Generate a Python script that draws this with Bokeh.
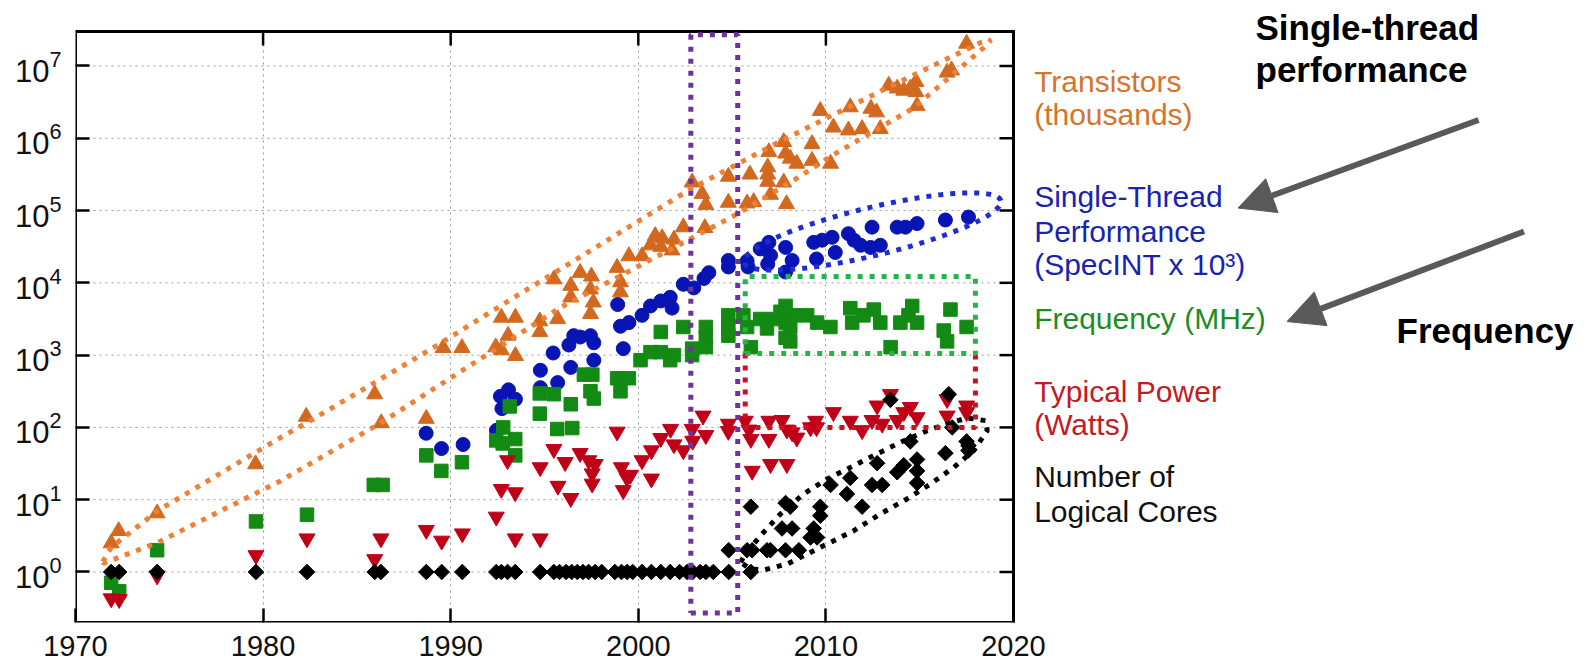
import numpy as np
from bokeh.plotting import figure
from bokeh.models import FixedTicker, Label, Arrow, NormalHead, Range1d
from bokeh.embed import file_html
from bokeh.resources import INLINE

# ---------------- data ----------------
trans_year = [1971.9, 1972.3, 1974.35, 1979.6, 1982.3, 1985.95, 1986.3, 1988.7, 1989.6, 1990.6,
              1992.4, 1992.7, 1992.7, 1993.06, 1993.45, 1993.45, 1994.75, 1994.75, 1995.5, 1995.7,
              1996.4, 1996.4, 1996.9, 1997.45, 1997.5, 1997.45, 1997.6, 1998.87, 1999.05, 1999.05,
              1999.5, 2000.2, 2000.65, 2000.9, 2001.27, 2001.2, 2001.8, 2001.9, 2002.4, 2002.87,
              2003.4, 2003.6, 2003.55, 2004.8, 2004.8, 2005.8, 2005.95, 2006.15, 2006.9, 2006.9,
              2006.9, 2007.05, 2006.96, 2007.75, 2007.75, 2007.85, 2007.9, 2008.1, 2008.45, 2009.26,
              2009.26, 2009.7, 2010.25, 2010.4, 2011.2, 2011.3, 2011.93, 2012.4, 2012.7, 2012.9,
              2013.35, 2013.8, 2014.15, 2014.5, 2014.8, 2014.8, 2014.86, 2016.46, 2016.7, 2017.5]
trans_k = [2.5, 3.7, 6.5, 31, 141, 288, 115, 132, 1259, 1259,
           1288, 1175, 3311, 1862, 3311, 977, 2951, 2089, 11220, 3162,
           9120, 6310, 13800, 8128, 12300, 3715, 5370, 16200, 10230, 7413,
           23440, 23440, 33110, 44670, 41690, 31620, 28180, 39810, 58880, 245500,
           169800, 120200, 57540, 295100, 128800, 125900, 316200, 131800, 398100, 316200,
           251200, 166000, 645700, 891300, 245500, 616600, 123000, 524800, 446700, 831800,
           489800, 2399000, 446700, 1413000, 1288000, 2692000, 1349000, 2570000, 2291000, 1349000,
           5370000, 4898000, 4571000, 4898000, 6026000, 4365000, 2818000, 8128000, 8710000, 20420000]

st_year = [1988.69, 1989.51, 1990.66, 1992.44, 1992.73, 1992.65, 1993.08, 1993.45, 1994.78, 1994.78,
           1995.46, 1995.7, 1996.3, 1996.4, 1996.56, 1996.9, 1997.45, 1997.63, 1997.63, 1998.9,
           1999.05, 1999.5, 1999.2, 2000.2, 2000.65, 2001.2, 2001.7, 2001.8, 2002.4, 2002.96,
           2003.5, 2003.76, 2004.8, 2004.8, 2005.8, 2005.85, 2006.5, 2006.96, 2007.05, 2006.9,
           2007.85, 2007.85, 2008.2, 2009.35, 2009.8, 2010.33, 2009.5, 2010.5, 2011.2, 2011.5,
           2011.85, 2012.38, 2012.46, 2012.9, 2013.8, 2014.24, 2014.86, 2016.37, 2017.6]
st_perf = [83, 51, 58, 91, 182, 269, 331, 245, 355, 617,
           1070, 417, 1380, 676, 1860, 1780, 1860, 1480, 851, 5010,
           2510, 2820, 1230, 3550, 4790, 5620, 6310, 4470, 9550, 8510,
           11500, 13800, 20400, 16600, 20000, 16600, 29500, 36300, 24000, 18200,
           30900, 14100, 20400, 36300, 38900, 42700, 21400, 26300, 47900, 38900,
           33100, 30900, 58900, 33100, 58900, 58900, 66100, 74100, 81300]

freq_year = [1971.9, 1972.33, 1974.35, 1979.62, 1982.34, 1985.9, 1986.37, 1988.7, 1989.5, 1990.6,
             1992.43, 1992.8, 1992.77, 1993.44, 1993.44, 1993.15, 1994.75, 1994.75, 1995.5, 1995.68,
             1996.48, 1996.4, 1997.1, 1997.45, 1997.63, 1997.55, 1998.87, 1999.05, 1999.5, 2000.12,
             2000.65, 2001.2, 2001.2, 2001.7, 2001.9, 2002.4, 2002.87, 2002.87, 2003.6, 2003.6,
             2003.6, 2004.8, 2004.8, 2004.8, 2005.6, 2005.8, 2006.0, 2006.5, 2006.86, 2007.2,
             2007.58, 2007.85, 2007.85, 2007.85, 2008.1, 2008.3, 2008.1, 2009.0, 2009.53, 2010.24,
             2011.3, 2011.4, 2012.0, 2012.55, 2012.9, 2013.45, 2013.97, 2014.4, 2014.6, 2014.86,
             2016.64, 2016.28, 2016.46, 2017.5]
freq_mhz = [0.71, 0.54, 2.0, 5.0, 6.2, 16, 16, 41, 25, 33,
            66, 100, 60, 69, 41, 195, 155, 295, 288, 95,
            98, 209, 537, 316, 251, 537, 479, 316, 479, 851,
            1100, 1100, 2090, 851, 1000, 2450, 1230, 1000, 1740, 2450,
            1290, 3550, 2450, 1860, 3550, 2450, 1290, 3160, 2340, 3160,
            3980, 4790, 2820, 1740, 2450, 3550, 1550, 3550, 2820, 2450,
            4470, 2820, 3550, 4270, 2820, 1290, 2820, 3550, 4790, 2820,
            4270, 2190, 1550, 2450]

power_year = [1971.9, 1972.33, 1974.35, 1979.62, 1982.34, 1985.95, 1986.28, 1988.7, 1989.52, 1990.62,
              1992.43, 1992.7, 1993.44, 1993.03, 1993.44, 1994.77, 1994.77, 1995.5, 1995.72, 1996.1,
              1996.4, 1996.9, 1997.36, 1997.7, 1997.54, 1997.54, 1998.87, 1999.1, 1999.4, 1999.2,
              1999.58, 2000.2, 2000.7, 2000.7, 2001.2, 2001.72, 2001.9, 2002.4, 2002.87, 2002.9,
              2003.45, 2003.6, 2004.8, 2004.8, 2005.7, 2005.9, 2006.0, 2006.07, 2006.96, 2006.96,
              2007.05, 2007.66, 2007.92, 2007.92, 2008.2, 2008.45, 2009.18, 2009.45, 2009.5, 2010.4,
              2011.3, 2011.93, 2012.46, 2012.73, 2013.0, 2013.44, 2013.8, 2014.15, 2014.5, 2014.86,
              2016.46, 2016.46, 2017.5, 2017.5]
power_w = [0.43, 0.42, 0.89, 1.7, 2.9, 1.5, 2.9, 3.8, 2.7, 3.4,
           5.8, 14, 12.6, 35, 2.9, 28, 2.9, 50, 15.5, 33,
           10.5, 44, 35, 31, 23, 16.6, 87, 28, 20, 13.5,
           22, 35, 19.5, 48, 71, 95, 58, 48, 95, 65,
           145, 78, 112, 89, 123, 93, 69, 25, 123, 69,
           31, 126, 93, 31, 85, 72, 100, 123, 100, 162,
           123, 91, 126, 200, 112, 288, 126, 162, 191, 138,
           245, 145, 200, 162]

cores_year = [1971.9, 1972.33, 1974.35, 1979.62, 1982.34, 1985.95, 1986.28, 1988.7, 1989.52, 1990.62,
              1992.43, 1992.7, 1993.03, 1993.44, 1994.77, 1995.5, 1995.8, 1996.15, 1996.45, 1996.75,
              1997.05, 1997.35, 1997.7, 1998.05, 1998.75, 1999.1, 1999.4, 1999.7, 2000.2, 2000.7,
              2001.2, 2001.7, 2002.2, 2002.6, 2002.9, 2003.3, 2003.6, 2004.0, 2004.82, 2006.0,
              2004.82, 2005.8, 2006.07, 2006.86, 2007.04, 2007.85, 2008.56, 2006.0, 2007.85, 2008.1,
              2007.66, 2008.2, 2009.18, 2009.35, 2009.53, 2009.7, 2009.7, 2010.25, 2011.12, 2011.3,
              2011.93, 2012.46, 2013.0, 2012.73, 2013.44, 2013.8, 2014.15, 2014.5, 2014.86, 2014.86,
              2014.86, 2016.37, 2016.55, 2016.73, 2017.5, 2017.6, 2017.6]
cores_n = [1, 1, 1, 1, 1, 1, 1, 1, 1, 1,
           1, 1, 1, 1, 1, 1, 1, 1, 1, 1,
           1, 1, 1, 1, 1, 1, 1, 1, 1, 1,
           1, 1, 1, 1, 1, 1, 1, 1, 1, 1,
           2, 2, 2, 2, 2, 2, 2, 8, 9, 8,
           4, 4, 3, 4, 3, 8, 6, 16, 12, 20,
           8, 16, 16, 32, 240, 24, 30, 64, 36, 25,
           17, 44, 288, 100, 64, 48, 56]

x_ticks = [1970, 1980, 1990, 2000, 2010, 2020]
y_ticks = [1, 10, 100, 1e3, 1e4, 1e5, 1e6, 1e7]

# ---------------- colours ----------------
C_OR, C_OR_LINE, C_OR_TXT = "#d2691e", "#ef8036", "#d4742c"
C_BL, C_BL_LINE, C_BL_TXT = "#0814b4", "#1c2ed0", "#1824b0"
C_GR, C_GR_LINE, C_GR_TXT = "#138a13", "#27b24a", "#1e8c1e"
C_RD, C_RD_LINE, C_RD_TXT = "#c00018", "#cc1020", "#c41a24"
C_PU = "#7030a0"
C_ARR = "#595959"
FONT = "Liberation Sans"

# plot box (data limits) and its size on screen
X0, X1 = 1970, 2020
Y0, Y1 = 0.2, 3e7
BOX_W, BOX_H = 938, 591
PX_YEAR = BOX_W / (X1 - X0)
PX_DEC = BOX_H / np.log10(Y1 / Y0)

W, H = 1587, 668
LEFT, TOP, BOTTOM = 75, 31, 46
# the drawing frame extends to the right and top page edges so that the
# side labels and arrows can be drawn; the plot box itself is drawn by hand
XR = X0 + (W - LEFT) / PX_YEAR
YR = Y1 * 10 ** (TOP / PX_DEC)

p = figure(width=W, height=H, x_range=Range1d(X0, XR), y_range=Range1d(Y0, YR),
           y_axis_type="log", output_backend="svg", toolbar_location=None,
           min_border_left=LEFT, min_border_right=0, min_border_top=0,
           min_border_bottom=BOTTOM)
p.background_fill_color = "white"
p.border_fill_color = "white"
p.outline_line_color = None

xt = FixedTicker(ticks=x_ticks, minor_ticks=[])
yt = FixedTicker(ticks=y_ticks, minor_ticks=[])


def style_axis(ax, ticker, size, standoff):
    ax.ticker = ticker
    ax.axis_line_color = None
    ax.major_tick_in = 14
    ax.major_tick_out = 0
    ax.minor_tick_in = 0
    ax.minor_tick_out = 0
    ax.major_tick_line_width = 2.5
    ax.major_tick_line_color = "black"
    ax.major_label_text_font = FONT
    ax.major_label_text_font_size = size
    ax.major_label_text_color = "#111111"
    ax.major_label_standoff = standoff


style_axis(p.xaxis[0], xt, "29px", 13)
style_axis(p.yaxis[0], yt, "31px", 14)

p.xgrid[0].ticker = FixedTicker(ticks=x_ticks[1:-1], minor_ticks=[])
p.xgrid[0].grid_line_color = "#9a9a9a"
p.xgrid[0].grid_line_dash = "2 4"
p.ygrid[0].grid_line_color = None
yg = y_ticks
p.segment(x0=[X0] * len(yg), y0=yg, x1=[X1] * len(yg), y1=yg,
          line_color="#9a9a9a", line_width=1, line_dash="2 4")
# the x grid lines must stop at the box top
p.segment(x0=x_ticks[1:-1], y0=[Y1] * 4, x1=x_ticks[1:-1], y1=[YR] * 4,
          line_color="white", line_width=3)

# mirrored inward ticks on the top and right edges
TICK = 14
p.segment(x0=[X1] * len(y_ticks), y0=y_ticks, x1=[X1 - TICK / PX_YEAR] * len(y_ticks), y1=y_ticks,
          line_color="black", line_width=2.5)
inner = x_ticks[1:-1]
p.segment(x0=inner, y0=[Y1] * len(inner), x1=inner, y1=[Y1 / 10 ** (TICK / PX_DEC)] * len(inner),
          line_color="black", line_width=2.5)

# plot box
p.line([X0, X1, X1, X0, X0], [Y0, Y0, Y1, Y1, Y0], line_color="black", line_width=3,
       line_join="miter")

# ---------------- markers ----------------
p.scatter(trans_year, trans_k, marker="triangle", size=16, fill_color=C_OR, line_color=C_OR)
p.scatter(st_year, st_perf, marker="circle", size=14, fill_color=C_BL, line_color=C_BL)
p.scatter(freq_year, freq_mhz, marker="square", size=13.5, fill_color=C_GR, line_color=C_GR)
p.scatter(power_year, power_w, marker="inverted_triangle", size=16, fill_color=C_RD, line_color=C_RD)
p.scatter(cores_year, cores_n, marker="square", angle=np.pi / 4, size=11,
          fill_color="black", line_color="black")

# ---------------- dotted outlines ----------------
DOT = dict(line_width=5, line_dash="5 7", line_cap="butt")


def dec(v):
    return [10 ** a for a in v]


band_x = [1971.45, 1971.9, 1974.4, 1980.93, 1982.5, 1989.0, 1993.7, 1995.85, 2002.8, 2007.58,
          2013.44, 2018.3, 2018.8, 2018.4, 2014.69, 2010.25, 2008.6, 2005.3, 1995.85, 1986.2,
          1980.93, 1974.4, 1971.5, 1971.45]
band_l = [0.14, 0.34, 0.85, 1.86, 2.09, 3.09, 3.85, 4.19, 5.30, 5.96,
          6.72, 7.33, 7.36, 7.25, 6.42, 5.75, 5.47, 4.955, 3.66, 2.05,
          1.26, 0.41, 0.12, 0.14]
p.line(band_x, dec(band_l), line_color=C_OR_LINE, **DOT)

# blue ellipse (centre in data, semi-axes in px, tilt in degrees)
t = np.linspace(0, 2 * np.pi, 240)
ecx, ecl, ea, eb, eang = 2012.48, 4.71, 132, 24, np.radians(13.5)
dx = ea * np.cos(t) * np.cos(eang) - eb * np.sin(t) * np.sin(eang)
dy = ea * np.cos(t) * np.sin(eang) + eb * np.sin(t) * np.cos(eang)
p.line(list(ecx + dx / PX_YEAR), dec(ecl + dy / PX_DEC), line_color=C_BL_LINE, **DOT)

# black blob around multi-core points
blob_x = [2005.45, 2005.71, 2006.51, 2007.58, 2008.82, 2010.07, 2011.14, 2012.55, 2013.97, 2015.40,
          2016.46, 2017.53, 2018.51, 2018.60, 2017.88, 2016.82, 2015.58, 2014.32, 2012.90, 2011.49,
          2010.07, 2009.00, 2007.94, 2006.69, 2005.98, 2005.45]
blob_l = [0.133, 0.249, 0.502, 0.803, 1.080, 1.287, 1.426, 1.610, 1.794, 1.956,
          2.048, 2.131, 2.094, 1.956, 1.679, 1.448, 1.218, 1.010, 0.803, 0.571,
          0.388, 0.249, 0.111, 0.028, 0.042, 0.133]
p.line(blob_x, dec(blob_l), line_color="black", **DOT)

# red (power) U-shape and green (frequency) box
bx0, bx1 = 2005.70, 2017.97
p.line([bx0, bx0, bx1, bx1], [1050, 100, 100, 1050], line_color=C_RD_LINE, **DOT)
p.line([bx0, bx1, bx1, bx0, bx0], [1050, 1050, 12200, 12200, 1050], line_color=C_GR_LINE, **DOT)

# purple box (2003-2005)
px0, px1 = 2002.8, 2005.3
p.line([px0, px1, px1, px0, px0], [0.27, 0.27, 2.7e7, 2.7e7, 0.27], line_color=C_PU, **DOT)

# ---------------- right-hand labels ----------------
LX = 2021.1
side = [("Transistors", 6.786, C_OR_TXT), ("(thousands)", 6.329, C_OR_TXT),
        ("Single-Thread", 5.194, C_BL_TXT), ("Performance", 4.710, C_BL_TXT),
        ("(SpecINT x 10\u00b3)", 4.253, C_BL_TXT),
        ("Frequency (MHz)", 3.513, C_GR_TXT),
        ("Typical Power", 2.495, C_RD_TXT), ("(Watts)", 2.039, C_RD_TXT),
        ("Number of", 1.319, "#111111"), ("Logical Cores", 0.834, "#111111")]
for txt, yl, col in side:
    p.add_layout(Label(x=LX, y=10 ** yl, text=txt, text_font=FONT, text_font_size="30px",
                       text_color=col, text_baseline="alphabetic", text_align="left"))

bold = [("Single-thread", 2032.9, 7.535), ("performance", 2032.9, 6.955), ("Frequency", 2040.42, 3.343)]
for txt, xx, yl in bold:
    p.add_layout(Label(x=xx, y=10 ** yl, text=txt, text_font=FONT, text_font_size="35px",
                       text_font_style="bold", text_color="black",
                       text_baseline="alphabetic", text_align="left"))

for (xs, ys, xe, ye) in [(2044.79, 6.253, 2031.97, 5.035), (2047.21, 4.710, 2034.58, 3.464)]:
    p.add_layout(Arrow(end=NormalHead(size=36, fill_color=C_ARR, line_color=C_ARR, line_width=1),
                       x_start=xs, y_start=10 ** ys, x_end=xe, y_end=10 ** ye,
                       line_color=C_ARR, line_width=6))

open("out.html", "w").write(file_html(p, INLINE))
